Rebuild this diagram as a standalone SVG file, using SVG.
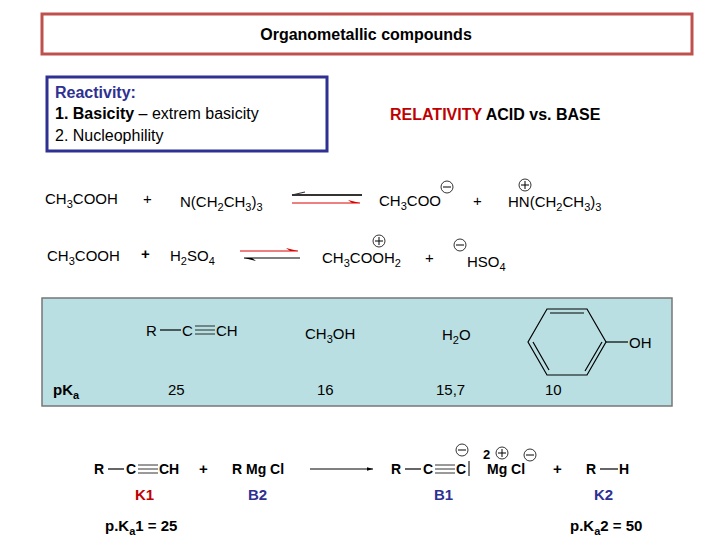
<svg xmlns="http://www.w3.org/2000/svg" width="720" height="540" viewBox="0 0 720 540">
<style>
text{font-family:"Liberation Sans",Arial,sans-serif;font-size:15px;fill:#000}
.b{font-weight:bold}
.s{font-size:11px}
.l{stroke:#000;stroke-width:1.2;fill:none}
.c{fill:none;stroke:#000;stroke-width:0.8}
</style>
<defs>
<marker id="ah" viewBox="0 0 10 10" refX="10" refY="5" markerWidth="8" markerHeight="6" orient="auto"><path d="M0,2L10,5L0,8z" fill="#000"/></marker>
</defs>
<rect width="720" height="540" fill="#fff"/>
<g id="title"><rect x="42" y="14" width="650" height="40" fill="#fff" stroke="#c0504d" stroke-width="3"/>
<text x="366" y="40" text-anchor="middle" class="b" style="font-size:16px">Organometallic compounds</text></g>
<g id="reactivity"><rect x="47" y="77" width="280" height="74" fill="#fff" stroke="#2e3192" stroke-width="3"/>
<text x="55" y="98" class="b" style="fill:#2e3192;font-size:16px">Reactivity:</text>
<text x="55" y="119" style="font-size:16px"><tspan class="b">1.  Basicity</tspan> – extrem basicity</text>
<text x="55" y="141" style="font-size:16px">2.  Nucleophility</text></g>
<g id="relativity"><text x="390" y="120" class="b" style="font-size:16px"><tspan style="fill:#c00000">RELATIVITY</tspan>  ACID vs. BASE</text></g>
<g id="eq1">
<text x="45" y="204">CH<tspan class="s" dy="4">3</tspan><tspan dy="-4">COOH</tspan></text>
<text x="143" y="204">+</text>
<text x="180" y="207">N(CH<tspan class="s" dy="4">2</tspan><tspan dy="-4">CH</tspan><tspan class="s" dy="4">3</tspan><tspan dy="-4">)</tspan><tspan class="s" dy="4">3</tspan></text>
<line x1="292" y1="195" x2="362" y2="195" stroke="#333" stroke-width="2"/>
<line x1="292" y1="195" x2="305" y2="192" stroke="#333" stroke-width="1.2"/>
<line x1="292" y1="203" x2="360" y2="203" stroke="#d00" stroke-width="1"/>
<path d="M360,203L348,200L352,203z" fill="#d00"/>
<text x="379" y="206">CH<tspan class="s" dy="4">3</tspan><tspan dy="-4">COO</tspan></text>
<circle cx="447" cy="187" r="6" class="c"/><line x1="443" y1="187" x2="451" y2="187" stroke="#000"/>
<text x="473" y="206">+</text>
<text x="508" y="207">HN(CH<tspan class="s" dy="4">2</tspan><tspan dy="-4">CH</tspan><tspan class="s" dy="4">3</tspan><tspan dy="-4">)</tspan><tspan class="s" dy="4">3</tspan></text>
<circle cx="525" cy="185" r="6" class="c"/><path d="M521,185h8M525,181v8" stroke="#000"/>
</g>
<g id="eq2">
<text x="47" y="261">CH<tspan class="s" dy="4">3</tspan><tspan dy="-4">COOH</tspan></text>
<text x="141" y="259" class="b">+</text>
<text x="170" y="261">H<tspan class="s" dy="4">2</tspan><tspan dy="-4">SO</tspan><tspan class="s" dy="4">4</tspan></text>
<line x1="240" y1="251" x2="298" y2="251" stroke="#d00" stroke-width="1"/>
<path d="M298,251L286,248L290,251z" fill="#d00"/>
<line x1="244" y1="258" x2="300" y2="258" stroke="#000" stroke-width="1.2"/>
<path d="M244,258L256,261L252,258z" fill="#000"/>
<text x="322" y="263">CH<tspan class="s" dy="4">3</tspan><tspan dy="-4">COOH</tspan><tspan class="s" dy="4">2</tspan></text>
<circle cx="379" cy="241" r="6" class="c"/><path d="M375,241h8M379,237v8" stroke="#000"/>
<text x="425" y="263">+</text>
<circle cx="460" cy="245" r="6" class="c"/><line x1="456" y1="245" x2="464" y2="245" stroke="#000"/>
<text x="467" y="267">HSO<tspan class="s" dy="4">4</tspan></text>
</g>
<g id="table">
<rect x="42" y="298" width="630" height="108" fill="#b9dfe2" stroke="#777" stroke-width="1.5"/>
<text x="146" y="336">R</text><line x1="160" y1="330" x2="181" y2="330" class="l"/>
<text x="182" y="336">C</text>
<path d="M195,326h20M195,330h20M195,334h20" stroke="#000" stroke-width="0.8"/>
<text x="216" y="336">CH</text>
<text x="305" y="339">CH<tspan class="s" dy="4">3</tspan><tspan dy="-4">OH</tspan></text>
<text x="442" y="340">H<tspan class="s" dy="4">2</tspan><tspan dy="-4">O</tspan></text>
<polygon points="528,342 547,309 587,309 606,342 587,375 547,375" class="l"/>
<path d="M550,313L584,313M533,342L549,370M602,342L585,371" class="l"/>
<line x1="606" y1="342" x2="628" y2="342" class="l"/>
<text x="629" y="348">OH</text>
<text x="53" y="395" class="b">pK<tspan class="s" dy="4">a</tspan></text>
<text x="168" y="395">25</text>
<text x="317" y="395">16</text>
<text x="436" y="395">15,7</text>
<text x="545" y="395">10</text>
</g>
<g id="eq3">
<text x="94" y="474" class="b" style="font-size:14px">R</text><line x1="108" y1="469" x2="124" y2="469" class="l"/>
<text x="126" y="474" class="b" style="font-size:14px">C</text>
<path d="M138,465h20M138,469h20M138,473h20" stroke="#000" stroke-width="0.8"/>
<text x="159" y="474" class="b" style="font-size:14px">CH</text>
<text x="199" y="474" class="b">+</text>
<text x="232" y="474" class="b" style="font-size:14px">R Mg Cl</text>
<line x1="310" y1="469" x2="373" y2="469" stroke="#000" stroke-width="1" marker-end="url(#ah)"/>
<text x="391" y="474" class="b" style="font-size:14px">R</text><line x1="405" y1="469" x2="421" y2="469" class="l"/>
<text x="423" y="474" class="b" style="font-size:14px">C</text>
<path d="M435,465h20M435,469h20M435,473h20" stroke="#000" stroke-width="0.8"/>
<text x="456" y="474" class="b" style="font-size:14px">C</text><line x1="469" y1="461" x2="469" y2="476" stroke="#000"/>
<circle cx="462" cy="450" r="6" class="c"/><line x1="458" y1="450" x2="466" y2="450" stroke="#000"/>
<text x="487" y="474" class="b" style="font-size:14px">Mg Cl</text>
<text x="483" y="459" class="b" style="font-size:13px">2</text>
<circle cx="502" cy="453" r="6" class="c"/><path d="M498,453h8M502,449v8" stroke="#000"/>
<circle cx="530" cy="455" r="6" class="c"/><line x1="526" y1="455" x2="534" y2="455" stroke="#000"/>
<text x="553" y="474" class="b">+</text>
<text x="586" y="474" class="b" style="font-size:14px">R</text><line x1="600" y1="469" x2="618" y2="469" class="l"/>
<text x="619" y="474" class="b" style="font-size:14px">H</text>
</g>
<g id="labels">
<text x="135" y="500" class="b" style="fill:#c00000">K1</text>
<text x="248" y="500" class="b" style="fill:#2e3192">B2</text>
<text x="434" y="500" class="b" style="fill:#2e3192">B1</text>
<text x="594" y="500" class="b" style="fill:#2e3192">K2</text>
<text x="105" y="531" class="b">p.K<tspan class="s" dy="4">a</tspan><tspan dy="-4">1 = 25</tspan></text>
<text x="570" y="531" class="b">p.K<tspan class="s" dy="4">a</tspan><tspan dy="-4">2 = 50</tspan></text>
</g>
</svg>
